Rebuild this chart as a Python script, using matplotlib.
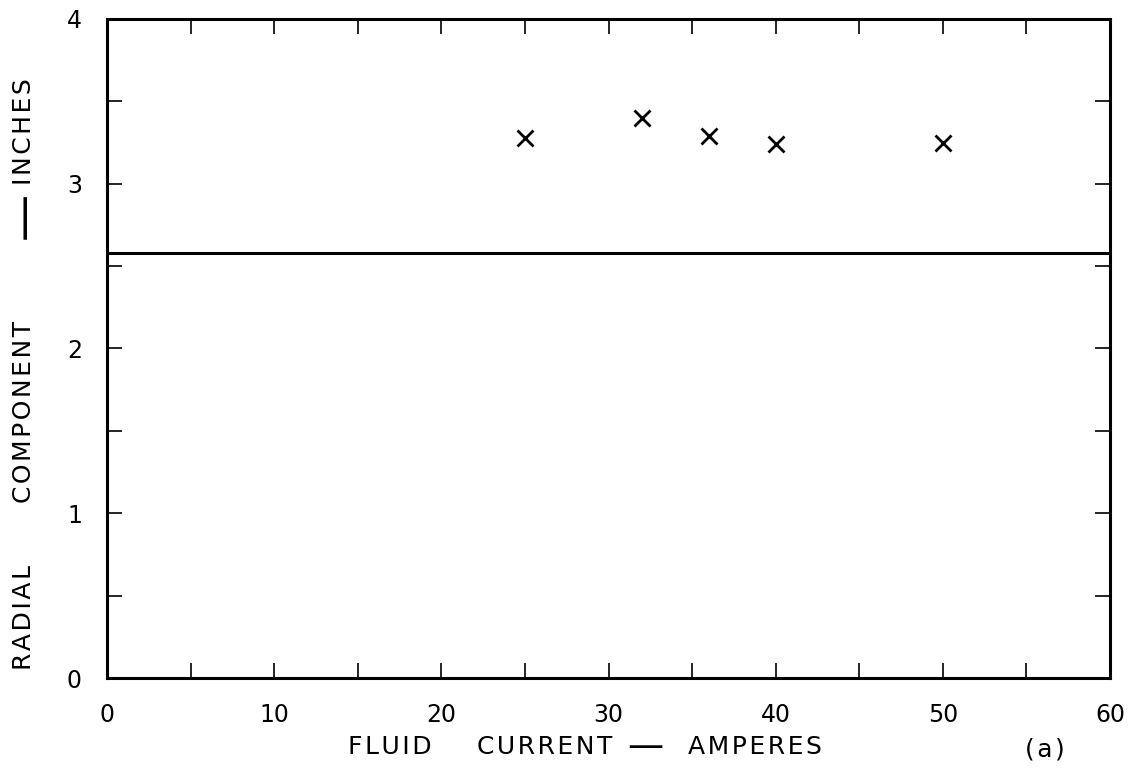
import matplotlib
matplotlib.use("Agg")
import matplotlib.pyplot as plt
from matplotlib.ticker import MultipleLocator

# Measured radial component vs fluid current
current_amps = [25.0, 32.0, 36.0, 40.0, 50.0]
radial_inches = [3.28, 3.40, 3.29, 3.24, 3.245]
reference_level = 2.58

x_ticks = [0, 10, 20, 30, 40, 50, 60]
y_ticks = [0, 1, 2, 3, 4]

x_label_words = ['FLUID', 'CURRENT', '—', 'AMPERES']
y_label_words = ['RADIAL', 'COMPONENT', '—', 'INCHES']
panel_tag = '(a)'

plt.rcParams['font.family'] = ['DejaVu Sans']

W, H = 1137, 771
fig = plt.figure(figsize=(W / 100, H / 100), dpi=100)
ax = fig.add_axes([0.0941, 0.1206, 0.9763 - 0.0941, 0.9754 - 0.1206])

ax.plot(current_amps, radial_inches, linestyle='none', marker='x',
        markersize=11, markeredgewidth=2.0, color='black')
ax.axhline(reference_level, color='black', linewidth=2.2)

ax.set_xlim(0, 60)
ax.set_ylim(0, 4)
ax.set_xticks(x_ticks)
ax.set_yticks(y_ticks)
ax.xaxis.set_minor_locator(MultipleLocator(5))
ax.yaxis.set_minor_locator(MultipleLocator(0.5))

ax.tick_params(which='both', direction='in', top=True, right=True,
               length=11, width=1.2, labelsize=17, pad=18)
for s in ax.spines.values():
    s.set_linewidth(2.2)


def spaced(word):
    # lettering-style tracking: hair space between characters
    return '\u200a'.join(word)


# x-axis title, word by word (pixel centres)
x_centres = [390, 545, 645, 755]
for word, cx in zip(x_label_words, x_centres):
    if word == '—':
        fig.text(cx / W, 1 - 747 / H, word, fontsize=26,
                 ha='center', va='center')
    else:
        fig.text(cx / W, 1 - 754 / H, spaced(word), fontsize=18,
                 ha='center', va='baseline')

# y-axis title, word by word (pixel centres)
y_centres = [617, 412, 215, 132]
for word, cy in zip(y_label_words, y_centres):
    if word == '—':
        fig.text(24 / W, 1 - cy / H, word, fontsize=34,
                 ha='center', va='center', rotation=90)
    else:
        fig.text(24 / W, 1 - cy / H, spaced(word), fontsize=18,
                 ha='center', va='center', rotation=90)

fig.text(1045 / W, 1 - 756 / H, spaced(panel_tag), fontsize=18,
         ha='center', va='baseline')

fig.savefig('out.png', dpi=100)
